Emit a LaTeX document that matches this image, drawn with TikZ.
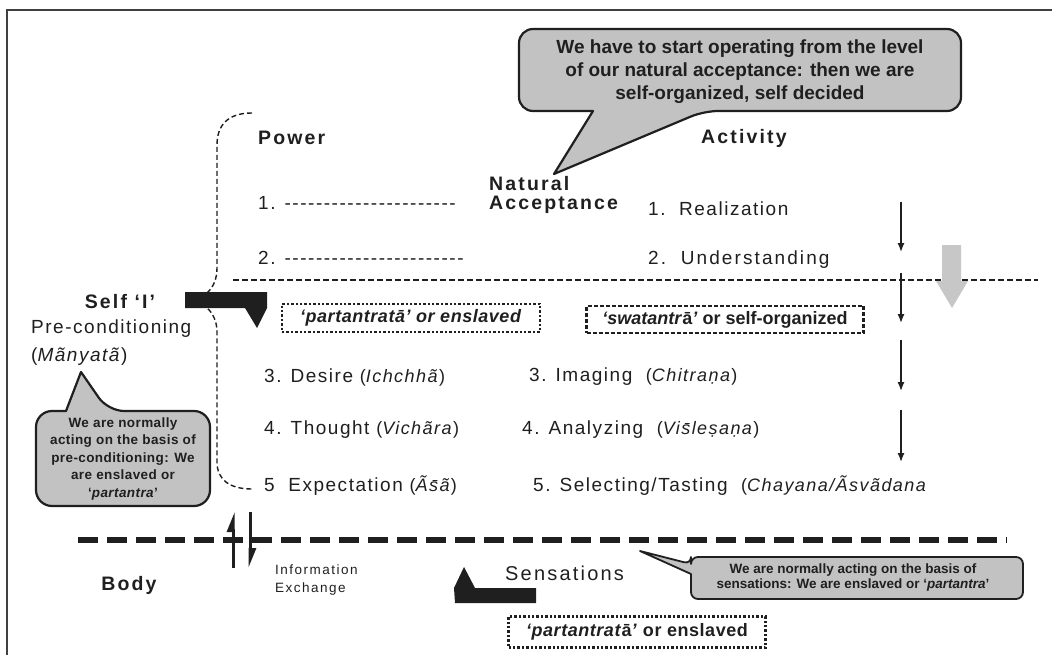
\documentclass[tikz,border=0pt]{standalone}
\usepackage{fontspec}
\setmainfont{Liberation Sans}
\newfontfamily\spfont[LetterSpace=8]{Liberation Sans}
\newfontfamily\wdfont[LetterSpace=11]{Liberation Sans}
\newfontfamily\spfontb[LetterSpace=3]{Liberation Sans}
\usetikzlibrary{arrows.meta, positioning}
\definecolor{ink}{gray}{0.12}
\definecolor{callgray}{gray}{0.76}
\definecolor{arrowgray}{gray}{0.78}
\newcommand\hyph[1]{\foreach \k in {1,...,#1}{-}}
\newcommand\term[1]{{\fontsize{18}{20}\selectfont(\textit{#1})}}

\begin{document}
\begin{tikzpicture}[x=1pt, y=-1pt,
    every node/.style={inner sep=0pt, text=ink},
    item/.style={anchor=west, font=\spfont\fontsize{19}{22}\selectfont},
    heading/.style={font=\wdfont\bfseries\fontsize{19.5}{22}\selectfont},
    note/.style={align=center, font=\bfseries\fontsize{19}{23}\selectfont},
    smallnote/.style={align=center, font=\spfontb\bfseries\fontsize{13.5}{17.5}\selectfont},
    tinynote/.style={align=center, font=\bfseries\fontsize{13.5}{15}\selectfont},
    bubble/.style={draw=ink, line width=2.2pt, fill=callgray, line join=round},
    dotbox/.style={draw=ink, line width=2.4pt, dotted, font=\spfontb\bfseries\fontsize{18}{20}\selectfont},
    dashbox/.style={draw=ink, line width=2.2pt, dash pattern=on 4pt off 2pt, font=\bfseries\fontsize{18}{20}\selectfont},
    flow/.style={draw=ink, line width=1.3pt, -{Latex[length=9pt,width=7pt]}},
    harp/.style={draw=ink, line width=3pt, -{Triangle[harpoon,length=16pt,width=12pt]}},
    bigdash/.style={draw=ink, line width=6pt, dash pattern=on 20pt off 9pt},
    thindash/.style={draw=ink, line width=1.8pt, dash pattern=on 6pt off 3pt},
    brace/.style={draw=ink, line width=1.4pt, dash pattern=on 5pt off 3pt}
  ]
  \useasboundingbox (0,0) rectangle (1052,655);
  % frame
  \draw[line width=2pt, draw=ink!85] (7,655) -- (7,10) -- (1052,10);

  % callouts
  \draw[bubble] (593,111) [rounded corners=14pt] -- (519,111) -- (519,29) -- (961,29)
    -- (961,111) -- (704,111) [sharp corners] -- (554,174) -- cycle;
  \node[note] (topnote) at (740,72) {We have to start operating from the level\\of our natural acceptance: then we are\\self-organized, self decided};

  \draw[bubble] (66,411) [rounded corners=16pt] -- (36,411) -- (36,506) -- (210,506)
    -- (210,411) -- (108,411) [sharp corners] -- (81,372) -- cycle;
  \node[smallnote] (leftnote) at (123,459) {We are normally\\acting on the basis of\\pre-conditioning: We\\are enslaved or\\‘\textit{partantra}’};

  \draw[bubble, line width=1.8pt] (691,574) [rounded corners=7pt] -- (691,599) -- (1023,599)
    -- (1023,557) -- (691,557) -- (691,564) [sharp corners] -- (640,551) -- cycle;
  \node[tinynote] (bottomnote) at (853,578) {We are normally acting on the basis of\\sensations: We are enslaved or ‘\textit{partantra}’};

  % headings
  \node[heading, anchor=west] (power) at (258,138) {Power};
  \node[heading, anchor=west] (activity) at (701,138) {Activity};
  \node[heading, anchor=west, align=left, font=\wdfont\bfseries\fontsize{19.5}{18.5}\selectfont] (nat) at (489,195) {Natural\\Acceptance};

  % power and activity lists
  \node[item] (p1) at (258,203) {1. \hyph{22}};
  \node[item] (p2) at (258,258) {2. \hyph{23}};
  \node[item] (a1) at (648,209) {1.\ \ Realization};
  \node[item, font=\wdfont\fontsize{19}{22}\selectfont] (a2) at (648,260) {2.\ \ Understanding};
  \node[item] (p3) at (264,377) {3. Desire \term{Ichchhã}};
  \node[item] (p4) at (264,430) {4. Thought \term{Vichãra}};
  \node[item] (p5) at (264,486) {5\ \ Expectation \term{Ãs̄ã}};
  \node[item] (a3) at (529,377) {3. Imaging\ \ \term{Chitraṇa}};
  \node[item] (a4) at (522,430) {4. Analyzing\ \ \term{Vis̄leṣaṇa}};
  \node[item] (a5) at (533,486) {5. Selecting/Tasting\ \ {\fontsize{18}{20}\selectfont(\textit{Chayana/Ãsvãdana}}};

  % boundary lines
  \draw[thindash] (233,280) -- (1038,280);
  \draw[bigdash] (78,540) -- (1007,540);

  % self
  \draw[brace] (252,113) .. controls (228,113) and (217,125) .. (217,145) -- (217,268)
    .. controls (217,290) and (202,300) .. (188,300)
    .. controls (202,300) and (217,312) .. (217,332) -- (217,462)
    .. controls (217,480) and (230,489) .. (252,489);
  \fill[ink] (185,292) -- (267,292) -- (267,308) -- (257,328) -- (245,308) -- (185,308) -- cycle;
  \node[heading] (self) at (120,302) {Self ‘I’};
  \node[item] (precond) at (31,329) {Pre-conditioning};
  \node[item] (manyata) at (31,357) {(\textit{Mãnyatã})};

  % states
  \node[dotbox, minimum width=258pt, minimum height=28pt] (enslaved) at (411,318) {\textit{‘partantratā’ or enslaved}};
  \node[dashbox, minimum width=277pt, minimum height=27pt] (free) at (725,319.5) {\textit{‘swatantr}ā\textit{’} or self-organized};
  \node[dotbox, minimum width=257pt, minimum height=31pt] (enslaved2) at (637,632) {\textit{‘partantrat}ā\textit{’} or enslaved};

  % flow of activity
  \foreach \ya/\yb in {202/252, 273/323, 340/391, 410/462}
    \draw[flow] (901,\ya) -- (901,\yb);
  \fill[arrowgray] (942,245) -- (961,245) -- (961,281) -- (968,281) -- (952,308)
    -- (936,281) -- (942,281) -- cycle;

  % body
  \node[heading] (body) at (129,585) {Body};
  \coordinate (upS) at (233,568);
  \coordinate (upE) at (233,512);
  \coordinate (dnS) at (250,512);
  \coordinate (dnE) at (250,568);
  \draw[harp] (upS) -- (upE);
  \draw[harp] (dnS) -- (dnE);
  \node[anchor=west, align=left, font=\wdfont\fontsize{13.5}{18}\selectfont] (info) at (275,580) {Information\\Exchange};
  \node[item, font=\wdfont\fontsize{20}{22}\selectfont] (sens) at (505,573) {Sensations};
  \fill[ink] (455,603) -- (536,603) -- (536,588) -- (475,588) -- (464,567) -- (454,588) -- cycle;
\end{tikzpicture}
\end{document}
